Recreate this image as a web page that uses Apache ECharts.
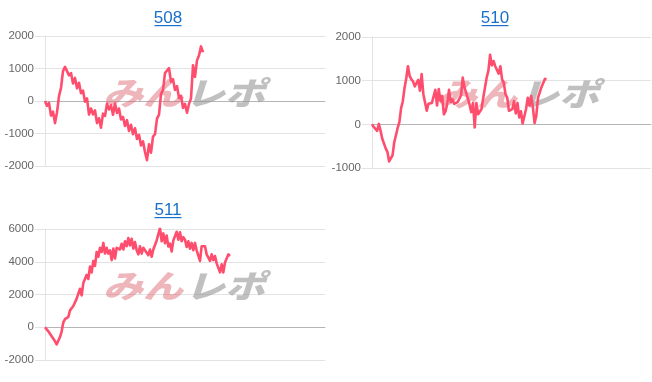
<!DOCTYPE html>
<html>
<head>
<meta charset="utf-8">
<script src="https://cdn.jsdelivr.net/npm/echarts@6/dist/echarts.min.js"></script>
<style>
html,body{margin:0;padding:0;background:#fff;}
#c{width:652px;height:382px;}
</style>
</head>
<body>
<div id="c"></div>
<script>
// ---- data ----
const titles = ['508', '510', '511'];
const yTicks508 = [-2000, -1000, 0, 1000, 2000];
const yTicks510 = [-1000, 0, 1000, 2000];
const yTicks511 = [-2000, 0, 2000, 4000, 6000];
const xTotal508 = 141;
const xTotal510 = 164;
const xTotal511 = 169;

const s508 = [0, -150, -60, -450, -330, -680, -350, 150, 400, 920,
  1050, 1110, 790, 860, 540, 710, 390, 560, 240, 320,
  -20, 80, -420, -230, -410, -290, -680, -530, -820, -390,
  -460, -80, -260, -130, -420, -80, -370, -230, -570, -490,
  -770, -590, -920, -730, -1020, -840, -1170, -1040, -1370, -1240,
  -1570, -1820, -1330, -1590, -1100, -1020, -540, -420, 210, 340,
  860, 900, 1010, 590, 670, 340, 460, 90, 160, -210,
  -90, -360, -90, 80, 1100, 740, 1250, 1400, 1680, 1500];

const s510 = [0, -60, -90, -150, 10, -150, -330, -310, -550, -630,
  -850, -850, -710, -410, -250, -80, 50, 370, 530, 830,
  1050, 1330, 1110, 1030, 980, 870, 860, 1020, 770, 1150,
  690, 650, 310, 470, 430, 490, 490, 790, 430, 810,
  530, 650, 230, 300, 490, 790, 510, 570, 470, 470,
  510, 530, 660, 1070, 850, 830, 590, 450, 280, 490,
  -70, 490, 230, 250, 350, 610, 650, 1070, 1230, 1590,
  1350, 1450, 1330, 1300, 1160, 1330, 1030, 950, 690, 610,
  310, 340, 350, 530, 250, 490, 160, 300, 20, -10,
  350, 610, 430, 650, 390, 30, 200, 610, 590, 850,
  850, 1040, 1030];

const s511 = [0, 60, -250, -300, -550, -480, -850, -1050, -820, -600,
  -250, 300, 500, 530, 630, 1030, 1050, 1300, 1350, 1750,
  1800, 2350, 1950, 2700, 2650, 3200, 2950, 3700, 3350, 4050,
  3750, 4600, 4300, 4850, 4600, 5150, 4500, 4850, 4500, 4700,
  4100, 4800, 4200, 4850, 4950, 4750, 5100, 4750, 5250, 4950,
  5450, 5000, 5400, 4800, 5200, 4700, 4450, 4950, 4500, 4850,
  4700, 4750, 4400, 4750, 4300, 4750, 4700, 5300, 5250, 6050,
  5250, 5730, 5130, 5600, 4930, 5100, 4630, 5300, 5250, 5830,
  5350, 5800, 5250, 5500, 5350, 4900, 5250, 4800, 5150, 4700,
  5150, 4700, 4750, 4050, 4950, 4900, 4950, 4450, 4550, 4050,
  4450, 4100, 4350, 3900, 3950, 3350, 3850, 3350, 3950, 3850,
  4450, 4350];

// ---- chart ----
const FONT = '"Liberation Sans", Arial, Helvetica, sans-serif';
const LINE_COLOR = '#ff4d6d';
const GRID_COLOR = '#e3e3e3';
const TITLE_COLOR = '#1a6fc8';

function cats(n) { const a = []; for (let i = 0; i < n; i++) a.push(String(i)); return a; }

const grids = [
  { left: 45, right: 327, top: 36, bottom: 216 },
  { left: 372, right: 1, top: 37, bottom: 214 },
  { left: 45, right: 327, top: 229, bottom: 22 }
];
const yRanges = [yTicks508, yTicks510, yTicks511];
const totals = [xTotal508, xTotal510, xTotal511];
const seriesData = [s508, s510, s511];

const xAxis = [], yAxis = [], series = [];
for (let i = 0; i < 3; i++) {
  const t = yRanges[i];
  xAxis.push({
    type: 'category', gridIndex: i, data: cats(totals[i]), boundaryGap: false,
    axisLine: { show: true, onZero: true, lineStyle: { color: '#b5b5b5', width: 1 } },
    axisTick: { show: false }, axisLabel: { show: false }, splitLine: { show: false }
  });
  yAxis.push({
    type: 'value', gridIndex: i, min: t[0], max: t[t.length - 1], interval: t[1] - t[0],
    axisLine: { show: true, lineStyle: { color: GRID_COLOR } },
    axisTick: { show: true, length: 10, lineStyle: { color: GRID_COLOR } },
    axisLabel: { color: '#666', fontSize: 11.5, fontFamily: FONT, margin: 11, formatter: v => String(v) },
    splitLine: { show: true, lineStyle: { color: GRID_COLOR } }
  });
  series.push({
    type: 'line', xAxisIndex: i, yAxisIndex: i, data: seriesData[i],
    symbol: 'none', smooth: false, z: 5,
    lineStyle: { color: LINE_COLOR, width: 2.6, join: 'round' }
  });
}

const titlePos = [[168, 18], [495, 18], [168, 210]];
const wmPos = [[184, 93], [518, 94], [184, 286]];
const graphic = [];
for (let i = 0; i < 3; i++) {
  const [tx, ty] = titlePos[i];
  graphic.push({
    type: 'text', x: tx, y: ty, z: 10, silent: true,
    style: { text: titles[i], font: '17px ' + FONT, fill: TITLE_COLOR, textAlign: 'center', textVerticalAlign: 'middle' }
  });
  graphic.push({
    type: 'rect', x: tx - 13.5, y: ty + 7, z: 10, silent: true,
    shape: { width: 27, height: 1.2 }, style: { fill: TITLE_COLOR }
  });
  const [wx, wy] = wmPos[i];
  graphic.push({
    type: 'group', x: wx, y: wy, scaleY: 0.8, z: 1, silent: true,
    children: [
      { type: 'text', x: -1, y: 0, z: 1,
        style: { text: 'みん', font: 'italic 900 40px "Noto Sans CJK JP"', fill: 'rgba(222,110,120,0.5)', textAlign: 'right', textVerticalAlign: 'middle' } },
      { type: 'text', x: 1, y: 0, z: 1,
        style: { text: 'レポ', font: 'italic 900 40px "Noto Sans CJK JP"', fill: 'rgba(150,150,150,0.6)', textAlign: 'left', textVerticalAlign: 'middle' } }
    ]
  });
}

const chart = echarts.init(document.getElementById('c'));
chart.setOption({
  animation: false,
  backgroundColor: '#fff',
  grid: grids,
  xAxis: xAxis,
  yAxis: yAxis,
  series: series,
  graphic: graphic
});
</script>
</body>
</html>
